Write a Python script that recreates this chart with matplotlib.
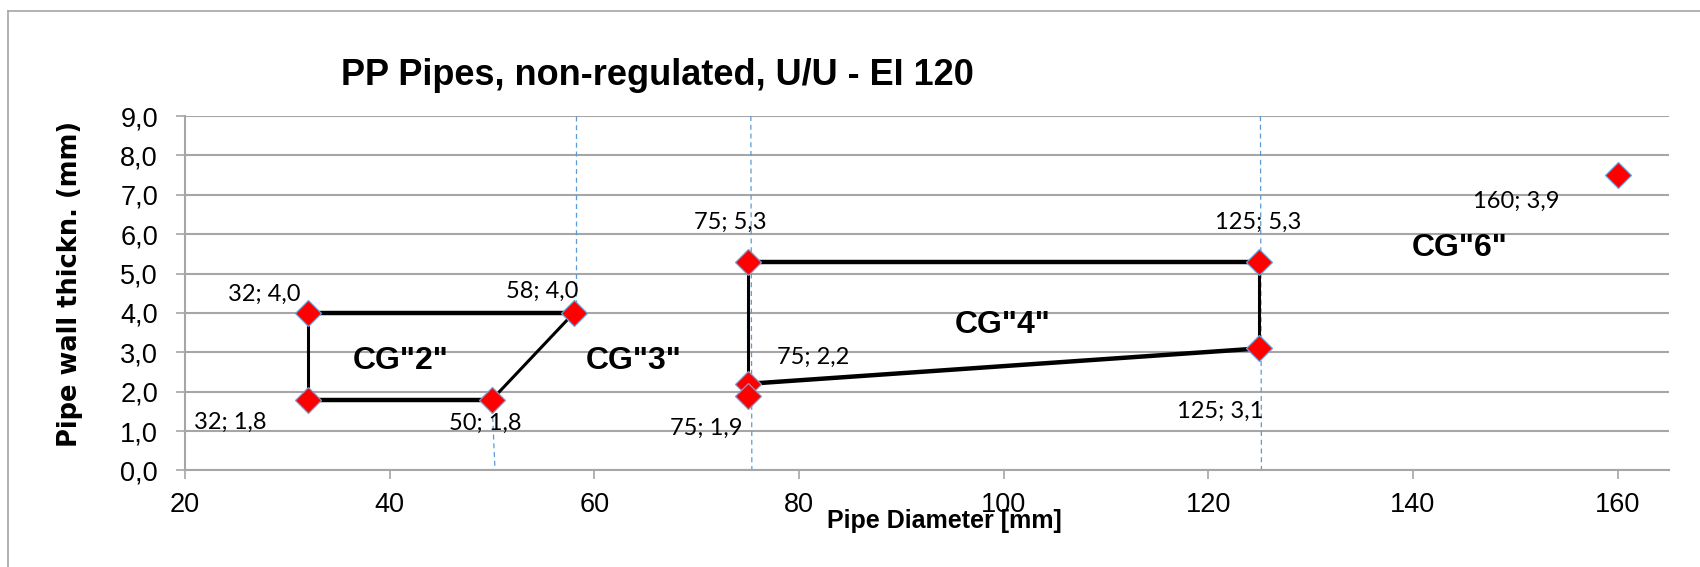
import matplotlib
matplotlib.use("Agg")
import matplotlib.pyplot as plt
from matplotlib.lines import Line2D

# points (diameter, wall thickness) and the text Excel shows next to them
px = [32, 32, 50, 58, 75, 75, 75, 125, 125, 160]
py = [4.0, 1.8, 1.8, 4.0, 5.3, 2.2, 1.9, 5.3, 3.1, 7.5]
labels = ["32; 4,0", "32; 1,8", "50; 1,8", "58; 4,0", "75; 5,3",
          "75; 2,2", "75; 1,9", "125; 5,3", "125; 3,1", "160; 3,9"]
label_x = [27.7, 24.4, 49.3, 54.9, 73.3, 81.4, 70.9, 124.9, 121.2, 150.1]
label_y = [4.47, 1.21, 1.20, 4.55, 6.29, 2.87, 1.07, 6.29, 1.49, 6.84]

# group outlines: thick and thin segments
thick_segs = [([32, 58], [4.0, 4.0]), ([32, 50], [1.8, 1.8]),
              ([75, 125], [5.3, 5.3]), ([75, 125], [2.2, 3.1])]
thin_segs = [([32, 32], [4.0, 1.8]), ([50, 58], [1.8, 4.0]),
             ([75, 75], [5.3, 2.2]), ([125, 125], [5.3, 3.1])]

# blue dashed separators
dash_segs = [([58.2, 58.2], [9.0, 4.0]), ([50.0, 50.3], [1.8, 0.0]),
             ([75.3, 75.4], [9.0, 0.0]), ([125.1, 125.2], [9.0, 0.0])]

groups = ['CG"2"', 'CG"3"', 'CG"4"', 'CG"6"']
group_x = [41.1, 63.9, 99.9, 144.6]
group_y = [2.79, 2.79, 3.70, 5.65]

fig = plt.figure(figsize=(17, 5.67), dpi=100)
ax = fig.add_axes([0.1088, 0.1702, 0.9816 - 0.1088, 0.7954 - 0.1702])

for xs, ys in dash_segs:
    ax.plot(xs, ys, color="#5B9BD5", lw=0.9, ls=(0, (4, 3)), zorder=2)
for xs, ys in thin_segs:
    ax.plot(xs, ys, color="black", lw=2.2, zorder=3, solid_capstyle="butt")
for xs, ys in thick_segs:
    ax.plot(xs, ys, color="black", lw=3.2, zorder=3, solid_capstyle="butt")

ax.plot(px, py, ls="none", marker="D", ms=13, mfc="#FF0000",
        mec="#6FA0D8", mew=0.9, zorder=4)

for t, x, y in zip(labels, label_x, label_y):
    ax.text(x, y, t, ha="center", va="center", fontsize=17,
            family=["Lato", "DejaVu Sans"], color="black", zorder=5)

for t, x, y in zip(groups, group_x, group_y):
    ax.text(x, y, t, ha="center", va="center", fontsize=23,
            fontweight="bold", family=["Liberation Sans", "DejaVu Sans"], zorder=5)

ax.set_xlim(20, 165)
ax.set_ylim(0, 9)
ax.set_xticks(range(20, 161, 20))
ax.set_yticks(range(0, 10))
ax.set_yticklabels([f"{v},0" for v in range(0, 10)])

ax.grid(axis="y", color="#A6A6A6", lw=1.5)
ax.set_axisbelow(True)
for s in ["top", "right"]:
    ax.spines[s].set_visible(False)
for s in ["left", "bottom"]:
    ax.spines[s].set_color("#A6A6A6")
    ax.spines[s].set_linewidth(1.5)
ax.tick_params(axis="both", direction="out", length=6.5, width=1.2,
               color="#A6A6A6", labelsize=19.5)
ax.tick_params(axis="x", pad=9)
ax.tick_params(axis="y", pad=13)
for lab in ax.get_xticklabels() + ax.get_yticklabels():
    lab.set_family(["Liberation Sans", "DejaVu Sans"])

fig.text(0.3868, 1 - 85 / 567, "PP Pipes, non-regulated, U/U - EI 120",
         ha="center", va="baseline", fontsize=26, fontweight="bold",
         family=["Liberation Sans", "DejaVu Sans"])
fig.text(70 / 1700, 0.500, "Pipe wall thickn. (mm)", rotation=90,
         ha="center", va="center", fontsize=18.5, fontweight="bold",
         family=["DejaVu Sans"])
fig.text(944 / 1700, 1 - 528.3 / 567, "Pipe Diameter [mm]", ha="center",
         va="baseline", fontsize=18, fontweight="bold",
         family=["Liberation Sans", "DejaVu Sans"], zorder=6)

# chart area border (only top and left fall inside the picture)
fig.add_artist(Line2D([8 / 1700, 1.0], [1 - 11 / 567, 1 - 11 / 567],
                      transform=fig.transFigure, color="#A6A6A6", lw=1.2))
fig.add_artist(Line2D([8 / 1700, 8 / 1700], [0.0, 1 - 11 / 567],
                      transform=fig.transFigure, color="#A6A6A6", lw=1.2))

fig.savefig("out.png", dpi=100)
